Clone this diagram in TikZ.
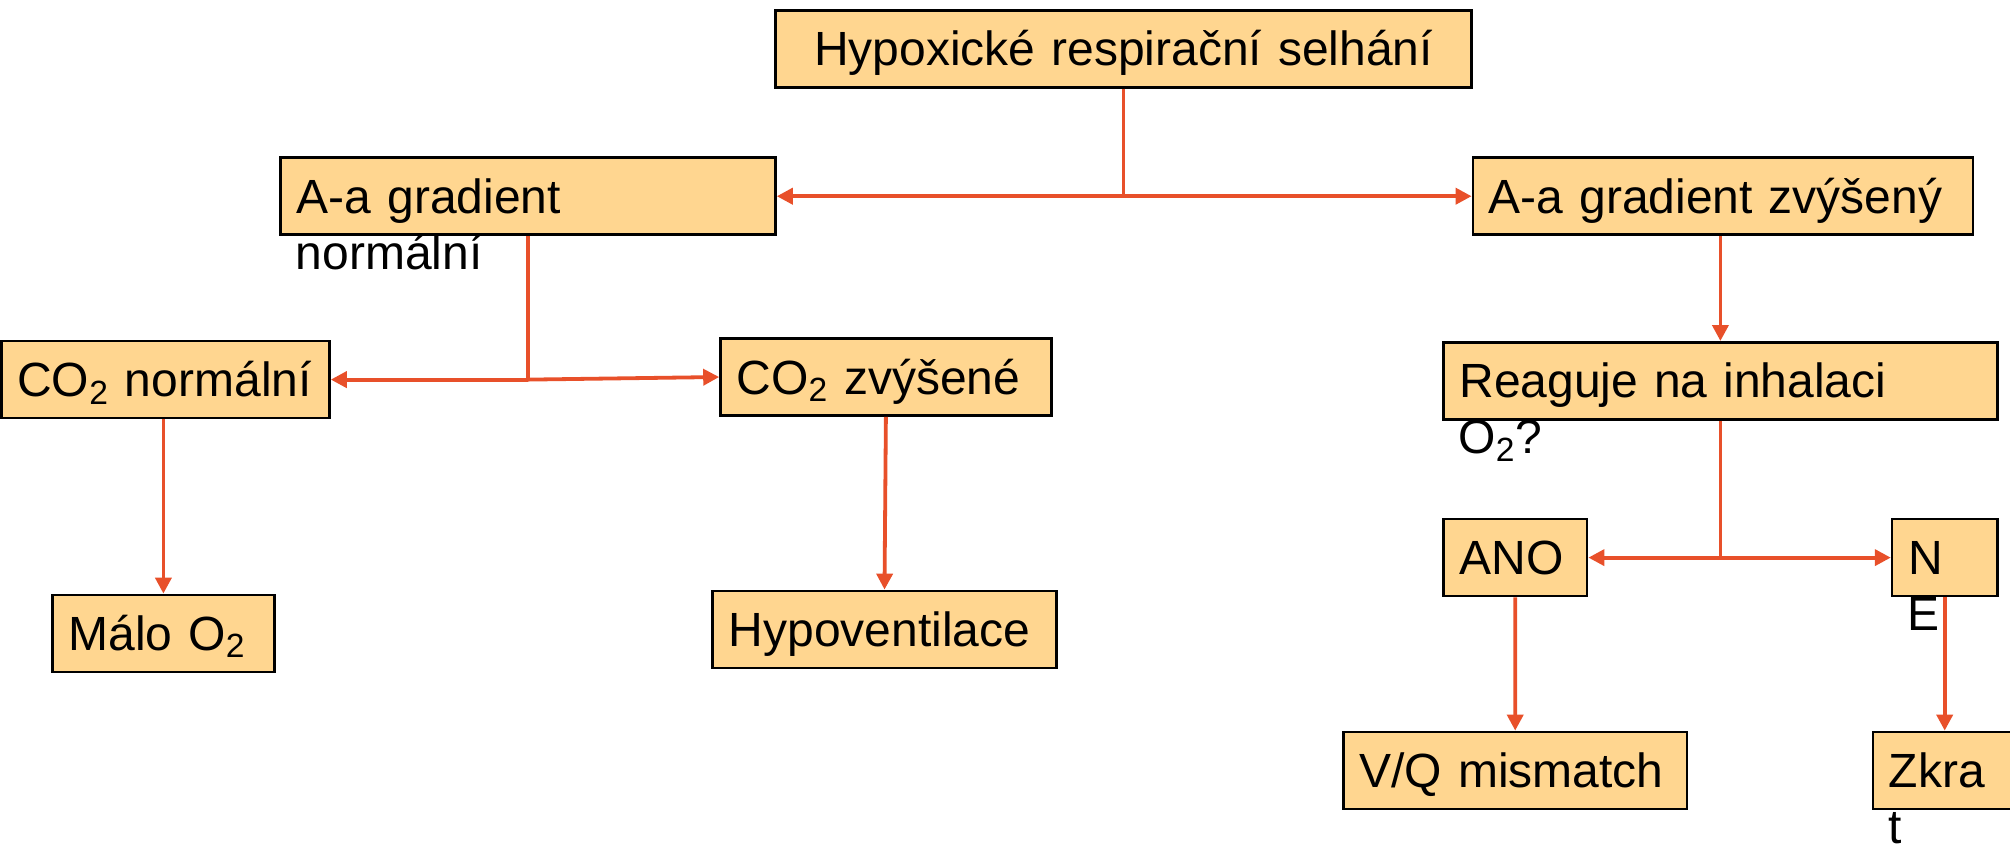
\documentclass[tikz,border=0pt]{standalone}
\usepackage{fontspec}
\setmainfont{Liberation Sans}
\usetikzlibrary{arrows.meta}
\definecolor{boxfill}{HTML}{FFD690}
\definecolor{linkred}{HTML}{E8502A}
\begin{document}
\begin{tikzpicture}[x=1pt,y=-1pt,
    box/.style={draw=black, line width=1.3pt, fill=boxfill, anchor=north west,
      minimum height=38.5pt, inner xsep=8pt, inner ysep=0pt,
      text height=17pt, text depth=0pt, align=left,
      font=\fontsize{24}{28.8}\selectfont},
    spill/.style={anchor=base west, inner xsep=8pt, font=\fontsize{24}{28.8}\selectfont},
    link/.style={linkred, line width=1.9pt},
    arr/.style={link, -{Triangle[length=8pt,width=8pt]}}]
    \useasboundingbox (0,0) rectangle (1005,421.5);
    % boxes
    \node[box, align=center, text width=332pt] (top) at (387.1,4.5) {Hypoxické respirační selhání};
    \node[box, text width=231.4pt] (aan) at (139.7,78.2) {A-a gradient};
    \node[box, text width=234pt] (aaz) at (735.8,78.2) {A-a gradient zvýšený};
    \node[box, text width=148.1pt] (con) at (0,169.9) {CO\textsubscript{2} normální};
    \node[box, text width=149.4pt] (coz) at (359.6,168.6) {CO\textsubscript{2} zvýšené};
    \node[box, text width=94.9pt] (malo) at (25.6,296.8) {Málo O\textsubscript{2}};
    \node[box, text width=155.8pt] (hypo) at (355.7,294.8) {Hypoventilace};
    \node[box, text width=260.9pt] (re) at (721.1,170.5) {Reaguje na inhalaci};
    \node[box, text width=55.8pt] (ano) at (721.1,258.9) {ANO};
    \node[box, text width=36.6pt] (ne) at (945.4,258.9) {N};
    \node[box, text width=155.7pt] (vq) at (671.1,365.3) {V/Q mismatch};
    \node[box, text width=74pt] (zk) at (935.8,365.3) {Zkra};
    % text that runs out of its box
    \node[spill] (aant) at ([yshift=-28pt]aan.base west) {normální};
    \node[spill] (ret) at ([yshift=-28pt]re.base west) {O\textsubscript{2}?};
    \node[spill] (net) at ([yshift=-28pt]ne.base west) {E};
    \node[spill] (zkt) at ([yshift=-28pt]zk.base west) {t};
    % connectors
    \coordinate (j1) at (top.south |- aan.east);
    \draw[link] (top.south) -- (j1);
    \draw[arr] (j1) -- (aan.east);
    \draw[arr] (j1) -- (aaz.west);
    \coordinate (j2) at (aan.south |- con.east);
    \draw[link] (aan.south) -- (j2);
    \draw[arr] (j2) -- (con.east);
    \draw[arr] (j2) -- (coz.west);
    \draw[arr] (con.south -| malo.north) -- (malo.north);
    \draw[arr] (coz.south) -- (hypo.north);
    \draw[arr] (aaz.south -| re.north) -- (re.north);
    \coordinate (j3) at (re.south |- ano.east);
    \draw[link] (re.south) -- (j3);
    \draw[arr] (j3) -- (ano.east);
    \draw[arr] (j3) -- (ne.west);
    \draw[arr] (ano.south) -- (vq.north);
    \draw[arr] (ne.south) -- (ne.south |- zk.north);
\end{tikzpicture}
\end{document}
